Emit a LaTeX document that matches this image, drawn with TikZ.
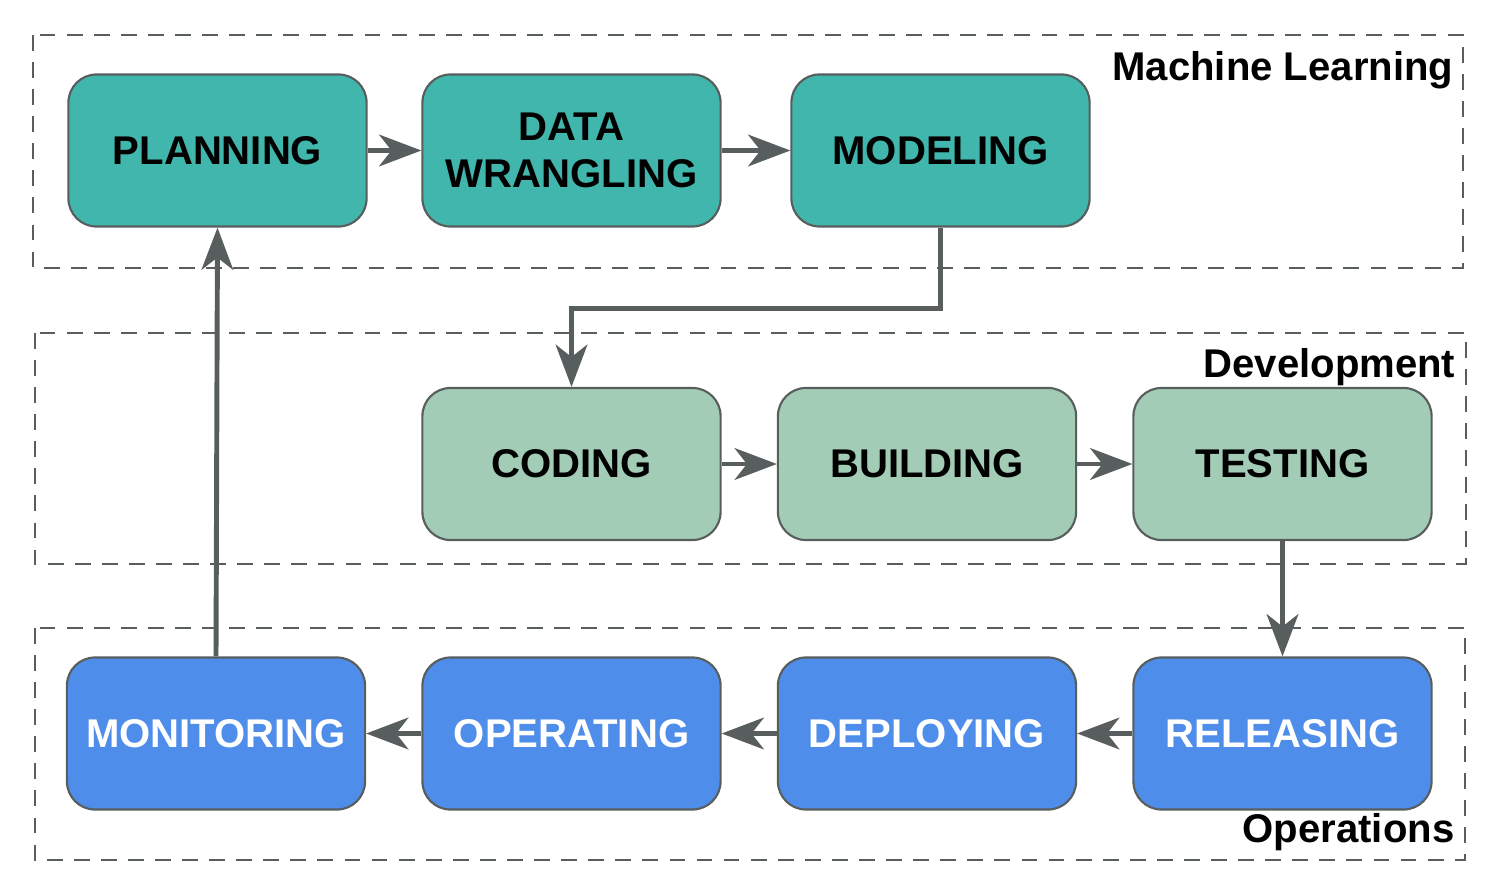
\documentclass[tikz,border=0pt]{standalone}
\usepackage{fontspec}
\setmainfont{Liberation Sans}
\usepackage{xcolor}
\usetikzlibrary{arrows.meta}
\usetikzlibrary{calc}
\definecolor{mlteal}{HTML}{41B6AC}
\definecolor{devgreen}{HTML}{A3CCB6}
\definecolor{opsblue}{HTML}{4F8DEB}
\definecolor{edgegray}{HTML}{585E5D}
\tikzset{
  every node/.style = {font = \fontsize{11.4}{13.4}\selectfont\bfseries}
}
\tikzset{
    >={Stealth[length=12pt, width=9pt, inset=3.5pt]}
}
\tikzset{
  stage/.style = {draw=edgegray, line width=0.6pt, rounded corners=8pt,
    minimum width=2.98cm, minimum height=1.52cm, align=center, inner sep=0pt},
  mlbox/.style = {stage, fill=mlteal},
  devbox/.style = {stage, fill=devgreen},
  opsbox/.style = {stage, fill=opsblue, text=white},
  frame/.style = {draw=edgegray, line width=0.75pt, dash pattern=on 4.5pt off 3.2pt},
  flow/.style = {->, draw=edgegray, line width=1.4pt},
  framelabel/.style = {anchor=east, inner sep=0pt}
}

\begin{document}
\begin{tikzpicture}[x=0.01cm, y=-0.01cm]
\useasboundingbox (0,0) rectangle (1500,891);

% The three dashed frames
\draw[frame] (33,35) rectangle (1463,268);
\draw[frame] (35,333) rectangle (1466,564);
\draw[frame] (35,628) rectangle (1465,860);
\node[framelabel] (mllabel) at (1454,70) {Machine Learning};
\node[framelabel] (devlabel) at (1456,367) {Development};
\node[framelabel] (opslabel) at (1455,832) {Operations};

% Machine learning row
\node[mlbox] (planning) at (217.5,150.5) {PLANNING};
\node[mlbox] (wrangling) at (571.5,150.5) {DATA\\WRANGLING};
\node[mlbox] (modeling) at (940.5,150.5) {MODELING};

% Development row
\node[devbox] (coding) at (571.5,464) {CODING};
\node[devbox] (building) at (927,464) {BUILDING};
\node[devbox] (testing) at (1282.5,464) {TESTING};

% Operations row
\node[opsbox] (monitoring) at (216,733.5) {MONITORING};
\node[opsbox] (operating) at (571.5,733.5) {OPERATING};
\node[opsbox] (deploying) at (927,733.5) {DEPLOYING};
\node[opsbox] (releasing) at (1282.5,733.5) {RELEASING};

% Connectors
\draw[flow] (planning) -- (wrangling);
\draw[flow] (wrangling) -- (modeling);
\draw[flow] (modeling.south) -- ++(0,81) -| (coding.north);
\draw[flow] (coding) -- (building);
\draw[flow] (building) -- (testing);
\draw[flow] (testing) -- (releasing);
\draw[flow] (releasing) -- (deploying);
\draw[flow] (deploying) -- (operating);
\draw[flow] (operating) -- (monitoring);
\draw[flow] (monitoring.north) -- (planning.south);
\end{tikzpicture}
\end{document}
